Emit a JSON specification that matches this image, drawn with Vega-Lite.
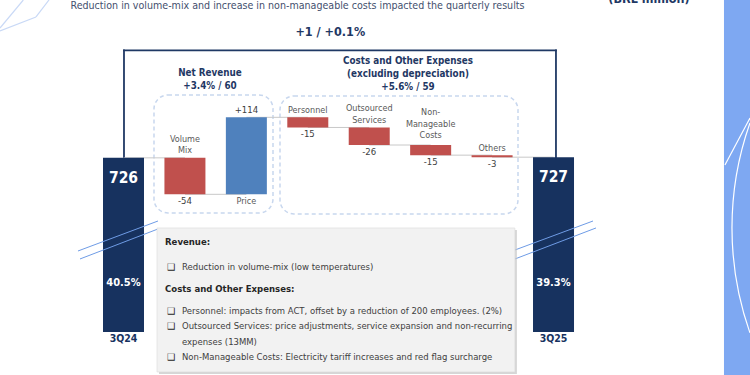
{
  "$schema": "https://vega.github.io/schema/vega-lite/v6.json",
  "width": 750,
  "height": 375,
  "autosize": {"type": "fit", "contains": "padding"},
  "padding": 0,
  "background": "white",
  "config": {
    "view": {"stroke": null},
    "axis": {"disable": true},
    "text": {"font": "Liberation Sans Narrow, Arial Narrow, DejaVu Sans Condensed, sans-serif"}
  },
  "datasets": {
    "bars": [
      {"cat": "3Q24", "name": "3Q24", "kind": "total", "end": 726, "margin": "40.5%"},
      {"cat": "Volume Mix", "name": "Volume\nMix", "kind": "decrease", "start": 726, "end": 672, "change": "-54"},
      {"cat": "Price", "name": "Price", "kind": "increase", "start": 672, "end": 786, "change": "+114"},
      {"cat": "Personnel", "name": "Personnel", "kind": "decrease", "start": 786, "end": 771, "change": "-15"},
      {"cat": "Outsourced Services", "name": "Outsourced\nServices", "kind": "decrease", "start": 771, "end": 745, "change": "-26"},
      {"cat": "Non-Manageable Costs", "name": "Non-\nManageable\nCosts", "kind": "decrease", "start": 745, "end": 730, "change": "-15"},
      {"cat": "Others", "name": "Others", "kind": "decrease", "start": 730, "end": 727, "change": "-3"},
      {"cat": "3Q25", "name": "3Q25", "kind": "total", "end": 727, "margin": "39.3%"}
    ]
  },
  "data": {"values": [{}]},
  "resolve": {"scale": {"x": "independent"}},
  "layer": [
    {
      "layer": [
        {"mark": {"type": "rect", "color": "#7ea8f2", "clip": true},
         "encoding": {"x": {"datum": 9.775, "type": "quantitative", "scale": {"domain": [-2.0104, 10.1986], "nice": false, "zero": false}}, "x2": {"datum": 10.4},
                      "y": {"datum": 400, "type": "quantitative", "scale": {"domain": [404.5, 959.7], "nice": false, "zero": false}}, "y2": {"datum": 965}}},
        {"mark": {"type": "arc", "clip": true, "fillOpacity": 0, "stroke": "white", "strokeWidth": 1.2, "innerRadius": 315, "outerRadius": 315, "theta": 4.373, "theta2": 5.052},
         "encoding": {"x": {"datum": 15.033, "type": "quantitative"}, "y": {"datum": 622.2, "type": "quantitative"}}},
        {"mark": {"type": "rule", "color": "white", "strokeWidth": 1.2, "clip": true},
         "encoding": {"x": {"datum": 10.1986, "type": "quantitative"}, "y": {"datum": 785.1, "type": "quantitative"}, "x2": {"datum": 9.7908}, "y2": {"datum": 715.5}}},
        {"mark": {"type": "rule", "color": "#c9d9f6", "strokeWidth": 1.2, "clip": true},
         "encoding": {"x": {"datum": -1.6314, "type": "quantitative"}, "y": {"datum": 959.7, "type": "quantitative"}, "x2": {"datum": -2.0104}, "y2": {"datum": 918.2}}},
        {"mark": {"type": "rule", "color": "#c9d9f6", "strokeWidth": 1.2, "clip": true},
         "encoding": {"x": {"datum": -1.2128, "type": "quantitative"}, "y": {"datum": 959.7, "type": "quantitative"}, "x2": {"datum": -1.4244}, "y2": {"datum": 934.6}}},
        {"mark": {"type": "rule", "color": "#c9d9f6", "strokeWidth": 1.2, "clip": true},
         "encoding": {"x": {"datum": -1.4244, "type": "quantitative"}, "y": {"datum": 934.6, "type": "quantitative"}, "x2": {"datum": -2.0104}, "y2": {"datum": 913.8}}},
        {"mark": {"type": "rect", "fillOpacity": 0, "stroke": "#c8d7ee", "strokeWidth": 1.5, "strokeDash": [4, 3], "cornerRadius": 14},
         "encoding": {"x": {"datum": 0.4965, "type": "quantitative"}, "x2": {"datum": 2.4337}, "y": {"datum": 819.1, "type": "quantitative"}, "y2": {"datum": 644.4}}},
        {"mark": {"type": "rect", "fillOpacity": 0, "stroke": "#c8d7ee", "strokeWidth": 1.5, "strokeDash": [4, 3], "cornerRadius": 14},
         "encoding": {"x": {"datum": 2.5476, "type": "quantitative"}, "x2": {"datum": 6.422}, "y": {"datum": 817.6, "type": "quantitative"}, "y2": {"datum": 642.9}}},
        {"mark": {"type": "rule", "color": "#1f3864", "strokeWidth": 1.8, "strokeCap": "square"},
         "encoding": {"x": {"datum": 0.008, "type": "quantitative"}, "y": {"datum": 726, "type": "quantitative"}, "x2": {"datum": 0.008}, "y2": {"datum": 885}}},
        {"mark": {"type": "rule", "color": "#1f3864", "strokeWidth": 1.8, "strokeCap": "square"},
         "encoding": {"x": {"datum": 0.008, "type": "quantitative"}, "y": {"datum": 885, "type": "quantitative"}, "x2": {"datum": 7.04}, "y2": {"datum": 885}}},
        {"mark": {"type": "rule", "color": "#1f3864", "strokeWidth": 1.8, "strokeCap": "square"},
         "encoding": {"x": {"datum": 7.04, "type": "quantitative"}, "y": {"datum": 885, "type": "quantitative"}, "x2": {"datum": 7.04}, "y2": {"datum": 727}}}
      ]
    },
    {
      "data": {"name": "bars"},
      "layer": [
        {"transform": [{"window": [{"op": "lead", "field": "cat", "as": "next"}]}, {"filter": "datum.next != null"}],
         "mark": {"type": "rule", "color": "#c8c8c8", "strokeWidth": 1},
         "encoding": {
           "x": {"field": "cat", "type": "nominal", "bandPosition": 0.5, "scale": {"type": "band", "domain": ["_l", "3Q24", "Volume Mix", "Price", "Personnel", "Outsourced Services", "Non-Manageable Costs", "Others", "3Q25", "_r1", "_r2"], "paddingInner": 0.3326, "paddingOuter": 0.7708, "align": 0.439, "round": false}},
           "x2": {"field": "next", "bandPosition": 0.5},
           "y": {"field": "end", "type": "quantitative"}}},
        {"transform": [{"filter": "datum.kind == 'total'"}],
         "mark": {"type": "bar", "color": "#17325f"},
         "encoding": {
           "x": {"field": "cat", "type": "nominal", "scale": {"type": "band", "domain": ["_l", "3Q24", "Volume Mix", "Price", "Personnel", "Outsourced Services", "Non-Manageable Costs", "Others", "3Q25", "_r1", "_r2"], "paddingInner": 0.3326, "paddingOuter": 0.7708, "align": 0.439, "round": false}},
           "y": {"field": "end", "type": "quantitative"},
           "y2": {"datum": 468}}},
        {"transform": [{"filter": "datum.kind != 'total'"}],
         "mark": {"type": "bar"},
         "encoding": {
           "x": {"field": "cat", "type": "nominal"},
           "y": {"field": "start", "type": "quantitative"},
           "y2": {"field": "end"},
           "color": {"field": "kind", "type": "nominal", "scale": {"domain": ["decrease", "increase"], "range": ["#c0504d", "#4f81bd"]}, "legend": null}}},
        {"transform": [{"filter": "datum.kind == 'decrease' && length(split(datum.name, '\\n')) == 1"}],
         "mark": {"type": "text", "baseline": "bottom", "dy": -2, "fontSize": 9, "color": "#595959"},
         "encoding": {"x": {"field": "cat", "type": "nominal"}, "y": {"field": "start", "type": "quantitative"}, "text": {"field": "name"}}},
        {"transform": [{"filter": "datum.kind == 'decrease' && length(split(datum.name, '\\n')) == 2"}],
         "mark": {"type": "text", "baseline": "bottom", "dy": -14, "fontSize": 9, "color": "#595959", "lineBreak": "\n", "lineHeight": 11.5},
         "encoding": {"x": {"field": "cat", "type": "nominal"}, "y": {"field": "start", "type": "quantitative"}, "text": {"field": "name"}}},
        {"transform": [{"filter": "datum.kind == 'decrease' && length(split(datum.name, '\\n')) == 3"}],
         "mark": {"type": "text", "baseline": "bottom", "dy": -28, "fontSize": 9, "color": "#595959", "lineBreak": "\n", "lineHeight": 11.5},
         "encoding": {"x": {"field": "cat", "type": "nominal"}, "y": {"field": "start", "type": "quantitative"}, "text": {"field": "name"}}},
        {"transform": [{"filter": "datum.kind == 'decrease'"}],
         "mark": {"type": "text", "baseline": "top", "dy": 2, "fontSize": 9.5, "color": "#404040"},
         "encoding": {"x": {"field": "cat", "type": "nominal"}, "y": {"field": "end", "type": "quantitative"}, "text": {"field": "change"}}},
        {"transform": [{"filter": "datum.kind == 'increase'"}],
         "mark": {"type": "text", "baseline": "bottom", "dy": -2, "fontSize": 9.5, "color": "#404040"},
         "encoding": {"x": {"field": "cat", "type": "nominal"}, "y": {"field": "end", "type": "quantitative"}, "text": {"field": "change"}}},
        {"transform": [{"filter": "datum.kind == 'increase'"}],
         "mark": {"type": "text", "baseline": "top", "dy": 3, "fontSize": 9, "color": "#595959"},
         "encoding": {"x": {"field": "cat", "type": "nominal"}, "y": {"field": "start", "type": "quantitative"}, "text": {"field": "name"}}},
        {"transform": [{"filter": "datum.kind == 'total'"}],
         "mark": {"type": "text", "baseline": "middle", "dy": 20, "fontSize": 15.5, "fontWeight": "bold", "color": "white"},
         "encoding": {"x": {"field": "cat", "type": "nominal"}, "y": {"field": "end", "type": "quantitative"}, "text": {"field": "end"}}},
        {"transform": [{"filter": "datum.kind == 'total'"}],
         "mark": {"type": "text", "baseline": "middle", "dy": -49, "fontSize": 11, "fontWeight": "bold", "color": "white"},
         "encoding": {"x": {"field": "cat", "type": "nominal"}, "y": {"datum": 468, "type": "quantitative"}, "text": {"field": "margin"}}},
        {"transform": [{"filter": "datum.kind == 'total'"}],
         "mark": {"type": "text", "baseline": "top", "dy": 2, "fontSize": 10.5, "fontWeight": "bold", "color": "#17325f"},
         "encoding": {"x": {"field": "cat", "type": "nominal"}, "y": {"datum": 468, "type": "quantitative"}, "text": {"field": "name"}}}
      ]
    },
    {
      "layer": [
        {"mark": {"type": "rule", "color": "#6f9ce6", "strokeWidth": 1},
         "encoding": {"x": {"datum": -0.7407, "type": "quantitative", "scale": {"domain": [-2.0104, 10.1986], "nice": false, "zero": false}}, "y": {"datum": 588.1, "type": "quantitative"}, "x2": {"datum": 0.5616}, "y2": {"datum": 632.5}}},
        {"mark": {"type": "rule", "color": "#6f9ce6", "strokeWidth": 1},
         "encoding": {"x": {"datum": -0.7081, "type": "quantitative"}, "y": {"datum": 576.3, "type": "quantitative"}, "x2": {"datum": 0.5616}, "y2": {"datum": 620.7}}},
        {"mark": {"type": "rule", "color": "#6f9ce6", "strokeWidth": 1},
         "encoding": {"x": {"datum": 6.3731, "type": "quantitative"}, "y": {"datum": 589.6, "type": "quantitative"}, "x2": {"datum": 7.6429}, "y2": {"datum": 632.5}}},
        {"mark": {"type": "rule", "color": "#6f9ce6", "strokeWidth": 1},
         "encoding": {"x": {"datum": 6.3731, "type": "quantitative"}, "y": {"datum": 576.3, "type": "quantitative"}, "x2": {"datum": 7.6917}, "y2": {"datum": 622.2}}},
        {"mark": {"type": "rect", "color": "#c4c4c4", "opacity": 0.7},
         "encoding": {"x": {"datum": 0.5779, "type": "quantitative"}, "x2": {"datum": 6.404}, "y": {"datum": 406.0, "type": "quantitative"}, "y2": {"datum": 619.2}}},
        {"mark": {"type": "rect", "fill": "#f2f2f2", "stroke": "#dcdcdc", "strokeWidth": 0.6},
         "encoding": {"x": {"datum": 0.5453, "type": "quantitative"}, "x2": {"datum": 6.3714}, "y": {"datum": 409.0, "type": "quantitative"}, "y2": {"datum": 622.2}}},
        {"mark": {"type": "text", "text": "Revenue:", "align": "left", "baseline": "middle", "fontSize": 9.5, "fontWeight": "bold", "color": "#262626"},
         "encoding": {"x": {"datum": 0.6756, "type": "quantitative"}, "y": {"datum": 601.4, "type": "quantitative"}}},
        {"mark": {"type": "text", "text": "❑", "align": "left", "baseline": "middle", "fontSize": 9, "color": "#262626", "font": "DejaVu Sans"},
         "encoding": {"x": {"datum": 0.7081, "type": "quantitative"}, "y": {"datum": 564.4, "type": "quantitative"}}},
        {"mark": {"type": "text", "text": "Reduction in volume-mix (low temperatures)", "align": "left", "baseline": "middle", "fontSize": 9.5, "color": "#404040"},
         "encoding": {"x": {"datum": 0.9523, "type": "quantitative"}, "y": {"datum": 564.4, "type": "quantitative"}}},
        {"mark": {"type": "text", "text": "Costs and Other Expenses:", "align": "left", "baseline": "middle", "fontSize": 9.5, "fontWeight": "bold", "color": "#262626"},
         "encoding": {"x": {"datum": 0.6756, "type": "quantitative"}, "y": {"datum": 531.8, "type": "quantitative"}}},
        {"mark": {"type": "text", "text": "❑\n❑", "lineBreak": "\n", "lineHeight": 15.33, "align": "left", "baseline": "middle", "fontSize": 9, "color": "#262626", "font": "DejaVu Sans"},
         "encoding": {"x": {"datum": 0.7081, "type": "quantitative"}, "y": {"datum": 499.2, "type": "quantitative"}}},
        {"mark": {"type": "text", "text": "❑", "align": "left", "baseline": "middle", "fontSize": 9, "color": "#262626", "font": "DejaVu Sans"},
         "encoding": {"x": {"datum": 0.7081, "type": "quantitative"}, "y": {"datum": 431.2, "type": "quantitative"}}},
        {"mark": {"type": "text", "text": "Personnel: impacts from ACT, offset by a reduction of 200 employees. (2%)\nOutsourced Services: price adjustments, service expansion and non-recurring\nexpenses (13MM)\nNon-Manageable Costs: Electricity tariff increases and red flag surcharge", "lineBreak": "\n", "lineHeight": 15.33, "align": "left", "baseline": "middle", "fontSize": 9.45, "color": "#404040"},
         "encoding": {"x": {"datum": 0.9523, "type": "quantitative"}, "y": {"datum": 499.2, "type": "quantitative"}}},
        {"mark": {"type": "text", "text": "+1 / +0.1%", "align": "center", "baseline": "middle", "fontSize": 12.5, "fontWeight": "bold", "color": "#1f3864"},
         "encoding": {"x": {"datum": 3.3664, "type": "quantitative"}, "y": {"datum": 912.4, "type": "quantitative"}}},
        {"mark": {"type": "text", "text": "Net Revenue\n+3.4% / 60", "lineBreak": "\n", "lineHeight": 13, "align": "center", "baseline": "middle", "fontSize": 9.8, "fontWeight": "bold", "color": "#1f3864"},
         "encoding": {"x": {"datum": 1.4081, "type": "quantitative"}, "y": {"datum": 851.6, "type": "quantitative"}}},
        {"mark": {"type": "text", "text": "Costs and Other Expenses\n(excluding depreciation)\n+5.6% / 59", "lineBreak": "\n", "lineHeight": 13, "align": "center", "baseline": "middle", "fontSize": 9.8, "fontWeight": "bold", "color": "#1f3864"},
         "encoding": {"x": {"datum": 4.6313, "type": "quantitative"}, "y": {"datum": 869.4, "type": "quantitative"}}},
        {"mark": {"type": "text", "text": "Reduction in volume-mix and increase in non-manageable costs impacted the quarterly results", "align": "center", "baseline": "middle", "fontSize": 10.6, "color": "#44506e", "clip": true},
         "encoding": {"x": {"datum": 2.8325, "type": "quantitative"}, "y": {"datum": 950.9, "type": "quantitative"}}},
        {"mark": {"type": "text", "text": "(BRL million)", "align": "center", "baseline": "middle", "fontSize": 12.5, "fontWeight": "bold", "color": "#1f3864", "clip": true},
         "encoding": {"x": {"datum": 8.5545, "type": "quantitative"}, "y": {"datum": 960.5, "type": "quantitative"}}}
      ]
    }
  ]
}
